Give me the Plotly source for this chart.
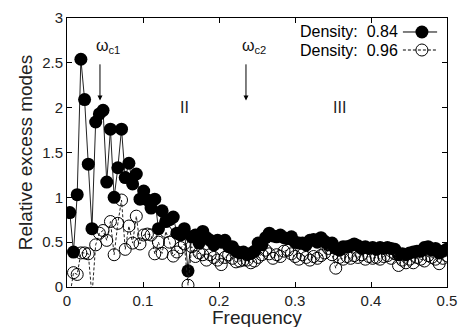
import plotly.graph_objects as go

# ---- data ----
n_points = 103
freq_start = 0.0037
freq_step = 0.00486
frequency = [round(freq_start + freq_step * i, 5) for i in range(n_points)]

density_084 = [
    0.83, 0.39, 1.03, 2.54, 2.09, 1.37, 0.65, 1.84, 1.93, 1.97,
    1.17, 1.76, 1.00, 1.33, 1.76, 1.22, 1.38, 1.15, 1.26, 0.98,
    1.07, 0.97, 0.88, 0.98, 0.65, 0.85, 0.73, 0.75, 0.78, 0.60,
    0.58, 0.65, 0.18, 0.56, 0.58, 0.49, 0.62, 0.55, 0.52, 0.47,
    0.52, 0.50, 0.52, 0.45, 0.45, 0.40, 0.38, 0.39, 0.36, 0.375,
    0.40, 0.49, 0.47, 0.55, 0.60, 0.57, 0.56, 0.58, 0.55, 0.54,
    0.56, 0.50, 0.49, 0.49, 0.47, 0.52, 0.53, 0.50, 0.55, 0.51,
    0.47, 0.49, 0.43, 0.41, 0.45, 0.45, 0.46, 0.48, 0.46, 0.43,
    0.45, 0.43, 0.44, 0.42, 0.44, 0.43, 0.44, 0.43, 0.42, 0.36,
    0.37, 0.36, 0.38, 0.39, 0.40, 0.40, 0.44, 0.45, 0.41, 0.43,
    0.38, 0.40, 0.42,
]

density_096 = [
    -0.10, 0.16, 0.14, 0.38, 0.38, 0.37, -0.10, 0.47, 0.60, 0.63,
    0.52, 0.73, 0.36, 0.71, 0.97, 0.42, 0.68, 0.49, 0.79, 0.48,
    0.58, 0.59, 0.58, 0.37, 0.50, 0.375, 0.62, 0.50, 0.345, 0.39,
    0.44, 0.48, 0.02, 0.45, 0.34, 0.38, 0.36, 0.30, 0.36, 0.33,
    0.30, 0.25, 0.33, 0.36, 0.32, 0.28, 0.29, 0.30, 0.30, 0.27,
    0.29, 0.33, 0.36, 0.41, 0.37, 0.32, 0.36, 0.34, 0.40, 0.41,
    0.37, 0.34, 0.31, 0.36, 0.33, 0.30, 0.34, 0.32, 0.35, 0.38,
    0.43, 0.36, 0.21, 0.33, 0.31, 0.34, 0.32, 0.35, 0.33, 0.36,
    0.31, 0.34, 0.32, 0.33, 0.31, 0.34, 0.35, 0.32, 0.37, 0.24,
    0.30, 0.27, 0.31, 0.27, 0.33, 0.31, 0.29, 0.35, 0.33, 0.31,
    0.26, 0.32, 0.35,
]

series_labels = ["Density:  0.84", "Density:  0.96"]
x_ticks = [0, 0.1, 0.2, 0.3, 0.4, 0.5]
x_tick_labels = ["0", "0.1", "0.2", "0.3", "0.4", "0.5"]
y_ticks = [0, 0.5, 1, 1.5, 2, 2.5, 3]
y_tick_labels = ["0", "0.5", "1", "1.5", "2", "2.5", "3"]
x_title = "Frequency"
y_title = "Relative excess modes"

omega_c1 = 0.0434
omega_c2 = 0.2355
region_labels = [("II", 0.155, 2.0), ("III", 0.359, 2.0)]

FONT = "Liberation Sans, Arial, Helvetica, sans-serif"

fig = go.Figure()

fig.add_trace(go.Scatter(
    x=frequency, y=density_084, mode="lines+markers",
    line=dict(color="#222222", width=1),
    marker=dict(symbol="circle", size=13, color="black"),
    showlegend=False,
))
fig.add_trace(go.Scatter(
    x=frequency, y=density_096, mode="lines+markers",
    line=dict(color="#222222", width=1, dash="3px,2px"),
    marker=dict(symbol="circle-open", size=12, color="black", line=dict(width=1)),
    showlegend=False,
))

# legend samples drawn on an overlay axis (text left, symbol right)
leg_rows = [0.948, 0.881]
fig.add_trace(go.Scatter(
    x=[0.884, 0.974], y=[leg_rows[0]] * 2, xaxis="x2", yaxis="y2", mode="lines",
    line=dict(color="black", width=1), showlegend=False, hoverinfo="skip"))
fig.add_trace(go.Scatter(
    x=[0.934], y=[leg_rows[0]], xaxis="x2", yaxis="y2", mode="markers",
    marker=dict(symbol="circle", size=13, color="black"), showlegend=False, hoverinfo="skip"))
fig.add_trace(go.Scatter(
    x=[0.884, 0.974], y=[leg_rows[1]] * 2, xaxis="x2", yaxis="y2", mode="lines",
    line=dict(color="black", width=1, dash="3px,2px"), showlegend=False, hoverinfo="skip"))
fig.add_trace(go.Scatter(
    x=[0.934], y=[leg_rows[1]], xaxis="x2", yaxis="y2", mode="markers",
    marker=dict(symbol="circle-open", size=12, color="black", line=dict(width=1)),
    showlegend=False, hoverinfo="skip"))

annotations = []
for label, row in zip(series_labels, leg_rows):
    annotations.append(dict(
        x=0.876, y=row, xref="paper", yref="paper", text=label.replace(" ", "&nbsp;"),
        showarrow=False, xanchor="right", yanchor="middle",
        font=dict(family=FONT, size=16, color="black")))

for name, xv in [("c1", omega_c1), ("c2", omega_c2)]:
    annotations.append(dict(
        x=xv, y=2.08, xref="x", yref="y", ax=xv, ay=2.5, axref="x", ayref="y",
        showarrow=True, arrowhead=2, arrowsize=1, arrowwidth=1, arrowcolor="black", text=""))
    annotations.append(dict(
        x=xv + 0.011, y=2.68, xref="x", yref="y", showarrow=False,
        text="ω<sub>" + name + "</sub>", font=dict(family=FONT, size=16, color="#111111")))

for label, xv, yv in region_labels:
    annotations.append(dict(
        x=xv, y=yv, xref="x", yref="y", showarrow=False, text=label,
        font=dict(family=FONT, size=16, color="#222222")))

# x-axis title placed below the tick labels
annotations.append(dict(
    x=0.5, y=-0.112, xref="paper", yref="paper", text=x_title, showarrow=False,
    xanchor="center", yanchor="middle",
    font=dict(family=FONT, size=19, color="#222222")))

axis_common = dict(
    showline=True, linecolor="black", linewidth=1, mirror="ticks",
    ticks="inside", ticklen=5, tickcolor="black", showgrid=False, zeroline=False,
    automargin=False,
    tickfont=dict(family=FONT, size=15, color="#222222"),
)

fig.update_layout(
    width=462, height=327,
    margin=dict(l=67, r=15, t=18, b=40),
    paper_bgcolor="white", plot_bgcolor="white",
    annotations=annotations,
    xaxis=dict(range=[0, 0.5], tickvals=x_ticks, ticktext=x_tick_labels, **axis_common),
    yaxis=dict(range=[0, 3], tickvals=y_ticks, ticktext=y_tick_labels,
               title=dict(text=y_title, font=dict(family=FONT, size=19, color="#222222"),
                          standoff=4), **axis_common),
    xaxis2=dict(range=[0, 1], overlaying="x", visible=False, anchor="y2"),
    yaxis2=dict(range=[0, 1], overlaying="y", visible=False, anchor="x2"),
)

fig.write_html("out.html")
